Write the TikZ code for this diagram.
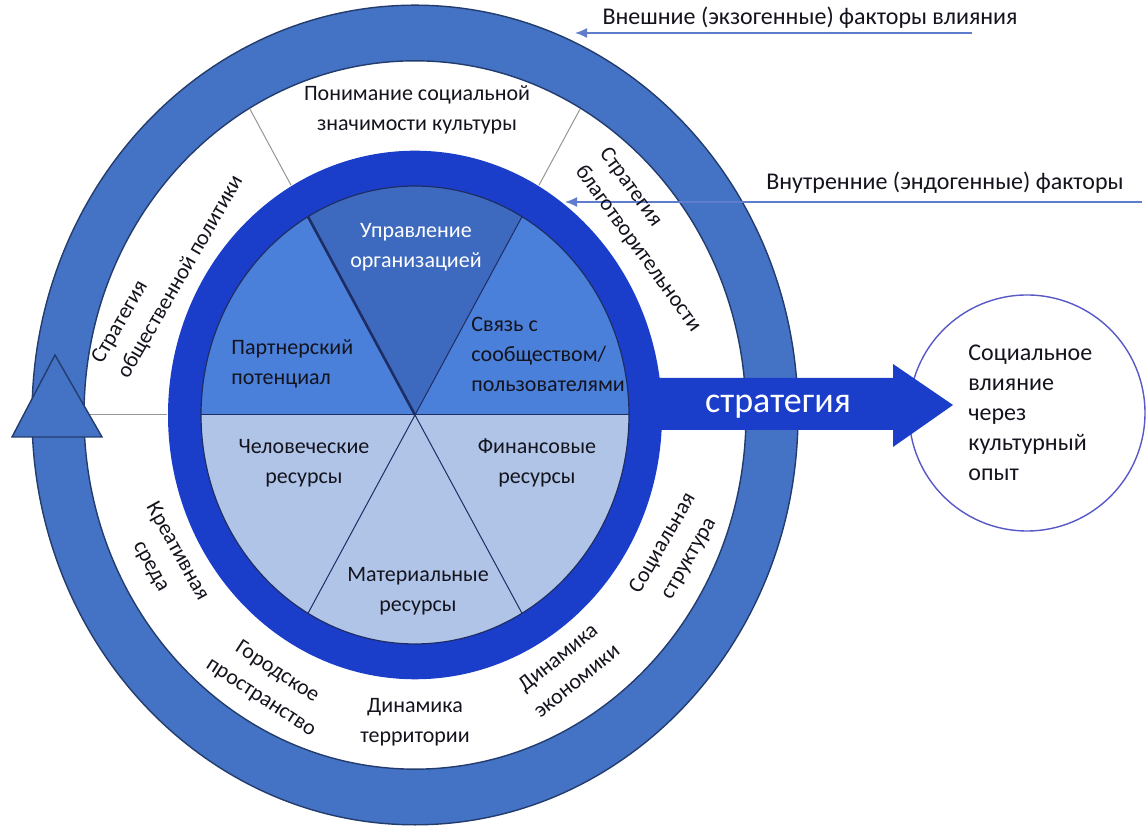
\documentclass[tikz,border=0pt]{standalone}
\usepackage{fontspec}
\setmainfont{Carlito}
\usetikzlibrary{arrows.meta}
\definecolor{ringblue}{RGB}{68,114,196}
\definecolor{ringline}{RGB}{35,60,110}
\definecolor{darkblue}{RGB}{26,62,202}
\definecolor{pietop}{RGB}{61,105,190}
\definecolor{pieside}{RGB}{74,127,218}
\definecolor{pielow}{RGB}{176,196,232}
\definecolor{pieline}{RGB}{30,45,100}
\definecolor{sepgray}{RGB}{150,150,150}
\definecolor{thinarrow}{RGB}{95,125,205}
\definecolor{circline}{RGB}{88,88,200}
\definecolor{txt}{RGB}{20,20,30}
\tikzset{
  lbl/.style={inner sep=0pt, text=txt, font=\fontsize{11}{15}\selectfont, align=center},
  lbll/.style={lbl, align=left},
  biglbl/.style={lbl, font=\fontsize{12}{15}\selectfont},
  piewhite/.style={lbl, text=white},
  factor/.style={draw=thinarrow, line width=0.8pt, -{Latex[length=6pt,width=5pt]}},
  sep/.style={draw=sepgray, line width=0.5pt},
  pieedge/.style={draw=pieline, line width=0.5pt}
}
\begin{document}
\begin{tikzpicture}[x=0.5pt,y=0.5pt]
\useasboundingbox (0,0) rectangle (1148,829);
\fill[white] (0,0) rectangle (1148,829);

% right circle
\node[draw=circline, line width=0.7pt, circle, minimum size=118pt, inner sep=0pt] (outc) at (1027,416) {};

\begin{scope}[shift={(415,414)}, yscale=1.07]
  % outer ring
  \fill[ringblue, even odd rule] (0,0) circle (383) (0,0) circle (331);
  \draw[ringline, line width=0.7pt] (0,0) circle (383);
  \draw[ringline, line width=0.7pt] (0,0) circle (331);
  % separators in white band
  \draw[sep] (60:248) -- (60:330);
  \draw[sep] (120:248) -- (120:330);
  \draw[sep] (180:248) -- (180:330);
  % dark ring
  \fill[darkblue] (0,0) circle (247);
  % pie
  \fill[pielow] (0,0) circle (214);
  \fill[pieside] (0,0) -- (0:214) arc[start angle=0, end angle=60, radius=214] -- cycle;
  \fill[pietop] (0,0) -- (60:214) arc[start angle=60, end angle=120, radius=214] -- cycle;
  \fill[pieside] (0,0) -- (120:214) arc[start angle=120, end angle=180, radius=214] -- cycle;
  \draw[pieedge] (180:214) -- (0:214);
  \draw[pieedge] (60:214) -- (240:214);
  \draw[pieline, line width=1.3pt] (120:214) -- (0,0);
  \draw[pieedge] (0,0) -- (300:214);
  \draw[pieline, line width=0.6pt] (0,0) circle (214);
\end{scope}

% left arrowhead of the outer ring
\draw[fill=ringblue, draw=ringline, line width=0.7pt] (55,474) -- (102,392) -- (12,392) -- cycle;

% strategy arrow
\fill[darkblue] (640,451) -- (893,451) -- (893,465) -- (953,424) -- (893,382) -- (893,399) -- (640,399) -- cycle;
\node[inner sep=0pt, text=white, font=\fontsize{18}{20}\selectfont] (strat) at (778,422) {стратегия};

% circle text
\node[biglbl, align=left, anchor=west] (impact) at (968,416) {Социальное\\влияние\\через\\культурный\\опыт};

% top factors
\node[biglbl] (ext) at (810,811) {Внешние (экзогенные) факторы влияния};
\coordinate (extA) at (972,796);
\coordinate (extB) at (575,796);
\draw[factor] (extA) -- (extB);
\node[biglbl] (int) at (945,646) {Внутренние (эндогенные) факторы};
\coordinate (intA) at (1142,627);
\coordinate (intB) at (565,627);
\draw[factor] (intA) -- (intB);

% white band labels
\node[lbl] (ponim) at (417,719) {Понимание социальной\\значимости культуры};
\node[lbll, rotate=60] (obsh) at (168,559) {Стратегия\\общественной политики};
\node[lbll, rotate=-54] (blag) at (650,589) {Стратегия\\благотворительности};
\node[lbl, rotate=-61] (kreat) at (164,270) {Креативная\\среда};
\node[lbl, rotate=-33] (gorod) at (269,144) {Городское\\пространство};
\node[lbl] (dinterr) at (415,107) {Динамика\\территории};
\node[lbl, rotate=39] (dinek) at (567,160) {Динамика\\экономики};
\node[lbl, rotate=60] (socstr) at (676,278) {Социальная\\структура};

% pie labels
\node[piewhite] (upr) at (416,582) {Управление\\организацией};
\node[lbll, anchor=west] (partn) at (231,465) {Партнерский\\потенциал};
\node[lbll, anchor=west] (svyaz) at (471,475) {Связь с\\сообществом/\\пользователями};
\node[lbl] (chel) at (304,366) {Человеческие\\ресурсы};
\node[lbl] (fin) at (537,366) {Финансовые\\ресурсы};
\node[lbl] (mater) at (418,238) {Материальные\\ресурсы};
\end{tikzpicture}
\end{document}
